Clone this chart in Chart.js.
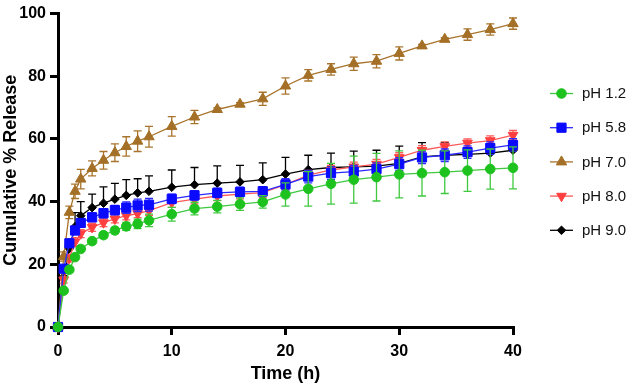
<!DOCTYPE html>
<html>
<head>
<meta charset="utf-8">
<script src="https://cdn.jsdelivr.net/npm/chart.js@4.4.1/dist/chart.umd.min.js"></script>
<style>
  html, body { margin: 0; padding: 0; background: #fff; }
  canvas { display: block; }
</style>
</head>
<body>
<canvas id="release-chart" width="628" height="386"></canvas>
<script>
// sampling times (h)
const times = [0, 0.5, 1, 1.5, 2, 3, 4, 5, 6, 7, 8, 10, 12, 14, 16, 18, 20, 22, 24, 26, 28, 30, 32, 34, 36, 38, 40];

const seriesLabels = ['pH 1.2', 'pH 5.8', 'pH 7.0', 'pH 8.0', 'pH 9.0'];

// mean cumulative release (%)
const ph12 = [0, 11.6, 18.3, 22.3, 24.9, 27.4, 29.3, 30.8, 32.1, 32.9, 34.0, 36.0, 37.8, 38.4, 39.2, 39.9, 42.3, 44.1, 45.7, 47.0, 47.8, 48.7, 49.1, 49.4, 49.9, 50.4, 50.8];
const ph58 = [0, 18.6, 26.7, 30.8, 33.2, 35.0, 36.3, 37.3, 38.1, 38.8, 39.0, 40.9, 42.0, 42.8, 43.1, 43.3, 45.5, 48.0, 49.1, 49.6, 50.4, 52.0, 54.1, 54.8, 55.8, 57.1, 58.1];
const ph70 = [0, 22.5, 36.6, 43.3, 47.2, 50.6, 53.2, 55.6, 57.6, 59.3, 60.7, 64.0, 67.0, 69.4, 71.1, 72.8, 76.9, 80.3, 82.2, 84.0, 84.8, 87.3, 89.7, 91.8, 93.3, 94.9, 96.8];
const ph80 = [0, 15.0, 22.0, 27.2, 29.8, 31.8, 33.3, 34.5, 35.5, 36.2, 37.1, 39.7, 40.8, 41.8, 42.4, 42.9, 45.4, 48.5, 50.1, 51.1, 52.0, 54.1, 56.4, 57.6, 58.7, 59.5, 61.2];
const ph90 = [0, 16.0, 25.0, 32.0, 35.5, 38.1, 39.5, 40.8, 42.0, 42.8, 43.3, 44.6, 45.4, 45.9, 46.3, 47.0, 48.8, 50.2, 50.9, 51.1, 51.3, 52.2, 54.3, 54.8, 55.1, 55.5, 56.4];

// standard deviations
const sd12 = [0, 0.5, 0.6, 0.6, 0.7, 0.8, 0.9, 1.0, 1.3, 1.5, 2.0, 2.2, 2.0, 2.0, 2.0, 2.0, 3.7, 5.5, 6.5, 7.5, 7.6, 7.5, 7.3, 6.8, 6.6, 6.4, 6.7];
const sd58 = [0, 1.0, 1.2, 1.3, 1.4, 1.4, 1.5, 1.5, 1.8, 2.0, 2.0, 1.5, 1.5, 1.5, 1.5, 1.5, 1.8, 2.0, 2.0, 2.0, 2.0, 2.0, 2.0, 2.0, 2.0, 2.0, 2.0];
const sd70 = [0, 1.5, 2.0, 2.3, 3.1, 2.4, 2.8, 2.8, 3.1, 3.3, 3.3, 3.1, 2.1, 0.5, 0.5, 2.1, 2.6, 1.8, 1.8, 2.1, 2.1, 2.1, 0.5, 0.5, 1.8, 1.8, 1.8];
const sd80 = [0, 1.0, 1.2, 1.3, 1.3, 1.3, 1.3, 1.3, 1.3, 1.3, 1.5, 1.5, 1.5, 1.5, 1.5, 1.5, 1.5, 1.5, 1.5, 1.5, 1.5, 1.5, 1.5, 1.5, 1.3, 1.5, 1.5];
const sd90 = [0, 2.0, 3.0, 4.5, 4.5, 4.3, 5.2, 5.0, 5.0, 4.5, 4.9, 5.5, 5.5, 5.5, 5.3, 5.4, 5.3, 4.6, 4.6, 5.0, 5.1, 5.5, 4.5, 4.0, 3.5, 3.0, 3.0];

const FONT = "'Liberation Sans', Arial, Helvetica, sans-serif";

function pts(values) {
    return values.map((v, i) => ({ x: times[i], y: v }));
}

function makeSet(label, values, sd, color, lineColor, style, radius, rotation, upOnly) {
    return {
        label: label,
        data: pts(values),
        sd: sd,
        upOnly: upOnly,
        borderColor: lineColor,
        backgroundColor: color,
        borderWidth: 1.3,
        pointStyle: style,
        pointRadius: radius,
        pointRotation: rotation,
        pointBackgroundColor: color,
        pointBorderColor: color,
        pointBorderWidth: 1,
        tension: 0,
        fill: false,
        clip: false,
    };
}

const datasets = [
    makeSet(seriesLabels[0], ph12, sd12, '#1ec21e', '#3fc93f', 'circle', 4.8, 0, false),
    makeSet(seriesLabels[1], ph58, sd58, '#0a0aff', '#2a2aff', 'rect', 6.5, 0, false),
    makeSet(seriesLabels[2], ph70, sd70, '#a46f26', '#a8742c', 'triangle', 6, 0, false),
    makeSet(seriesLabels[3], ph80, sd80, '#ff3f3f', '#ff5a5a', 'triangle', 5.6, 180, false),
    makeSet(seriesLabels[4], ph90, sd90, '#000000', '#000000', 'rectRot', 4.3, 0, true),
];

// error bars drawn right before each dataset so markers sit on top
const errorBars = {
    id: 'errorBars',
    beforeDatasetDraw(chart, args) {
        const ds = chart.data.datasets[args.index];
        const xs = chart.scales.x, ys = chart.scales.y;
        const ctx = chart.ctx;
        ctx.save();
        ctx.strokeStyle = ds.borderColor;
        ctx.lineWidth = 1.3;
        ds.data.forEach((p, j) => {
            const e = ds.sd[j];
            if (!e) return;
            const x = xs.getPixelForValue(p.x);
            const yHi = ys.getPixelForValue(p.y + e);
            const yLo = ds.upOnly ? ys.getPixelForValue(p.y) : ys.getPixelForValue(p.y - e);
            ctx.beginPath();
            ctx.moveTo(x, yHi);
            ctx.lineTo(x, yLo);
            ctx.moveTo(x - 4, yHi);
            ctx.lineTo(x + 4, yHi);
            if (!ds.upOnly) {
                ctx.moveTo(x - 4, yLo);
                ctx.lineTo(x + 4, yLo);
            }
            ctx.stroke();
        });
        ctx.restore();
    }
};

// legend on the right: short line with the marker, then the label
const sideLegend = {
    id: 'sideLegend',
    afterDraw(chart) {
        const ctx = chart.ctx;
        ctx.save();
        chart.data.datasets.forEach((ds, i) => {
            const y = 93.5 + i * 34.2;
            ctx.strokeStyle = ds.borderColor;
            ctx.lineWidth = 1.3;
            ctx.beginPath();
            ctx.moveTo(550, y);
            ctx.lineTo(573, y);
            ctx.stroke();
            ctx.fillStyle = ds.pointBackgroundColor;
            ctx.strokeStyle = ds.pointBorderColor;
            ctx.lineWidth = 1;
            Chart.helpers.drawPoint(ctx, {
                pointStyle: ds.pointStyle,
                radius: ds.pointRadius,
                rotation: ds.pointRotation,
                borderWidth: 1,
            }, 561.5, y);
            ctx.fillStyle = '#111';
            ctx.font = '15px ' + FONT;
            ctx.textAlign = 'left';
            ctx.textBaseline = 'middle';
            ctx.fillText(ds.label, 582, y + 0.5);
        });
        ctx.restore();
    }
};

const ctx = document.getElementById('release-chart').getContext('2d');
new Chart(ctx, {
    type: 'line',
    data: { datasets: datasets },
    options: {
        responsive: false,
        animation: false,
        layout: { padding: { left: 0, right: 115, top: 7, bottom: 0 } },
        plugins: {
            legend: { display: false },
            tooltip: { enabled: false },
        },
        scales: {
            x: {
                type: 'linear',
                min: 0,
                max: 40,
                afterFit: (s) => { s.height = 59; },
                border: { color: '#000', width: 3 },
                grid: { drawOnChartArea: false, color: '#000', lineWidth: 3, tickLength: 8 },
                ticks: {
                    stepSize: 10,
                    color: '#000',
                    padding: 7,
                    font: { family: FONT, size: 16, weight: 'bold' },
                },
                title: {
                    display: true,
                    text: 'Time (h)',
                    color: '#000',
                    padding: { top: 0, bottom: 1 },
                    font: { family: FONT, size: 18, weight: 'bold', lineHeight: 1.2 },
                },
            },
            y: {
                min: 0,
                max: 100,
                afterFit: (s) => { s.width = 58; },
                border: { color: '#000', width: 3 },
                grid: { drawOnChartArea: false, color: '#000', lineWidth: 3, tickLength: 8 },
                ticks: {
                    stepSize: 20,
                    color: '#000',
                    padding: 4,
                    font: { family: FONT, size: 16, weight: 'bold' },
                },
                title: {
                    display: true,
                    text: 'Cumulative % Release',
                    color: '#000',
                    padding: { top: 0, bottom: 0 },
                    font: { family: FONT, size: 18, weight: 'bold', lineHeight: 1.2 },
                },
            },
        },
    },
    plugins: [errorBars, sideLegend],
});
</script>
</body>
</html>
